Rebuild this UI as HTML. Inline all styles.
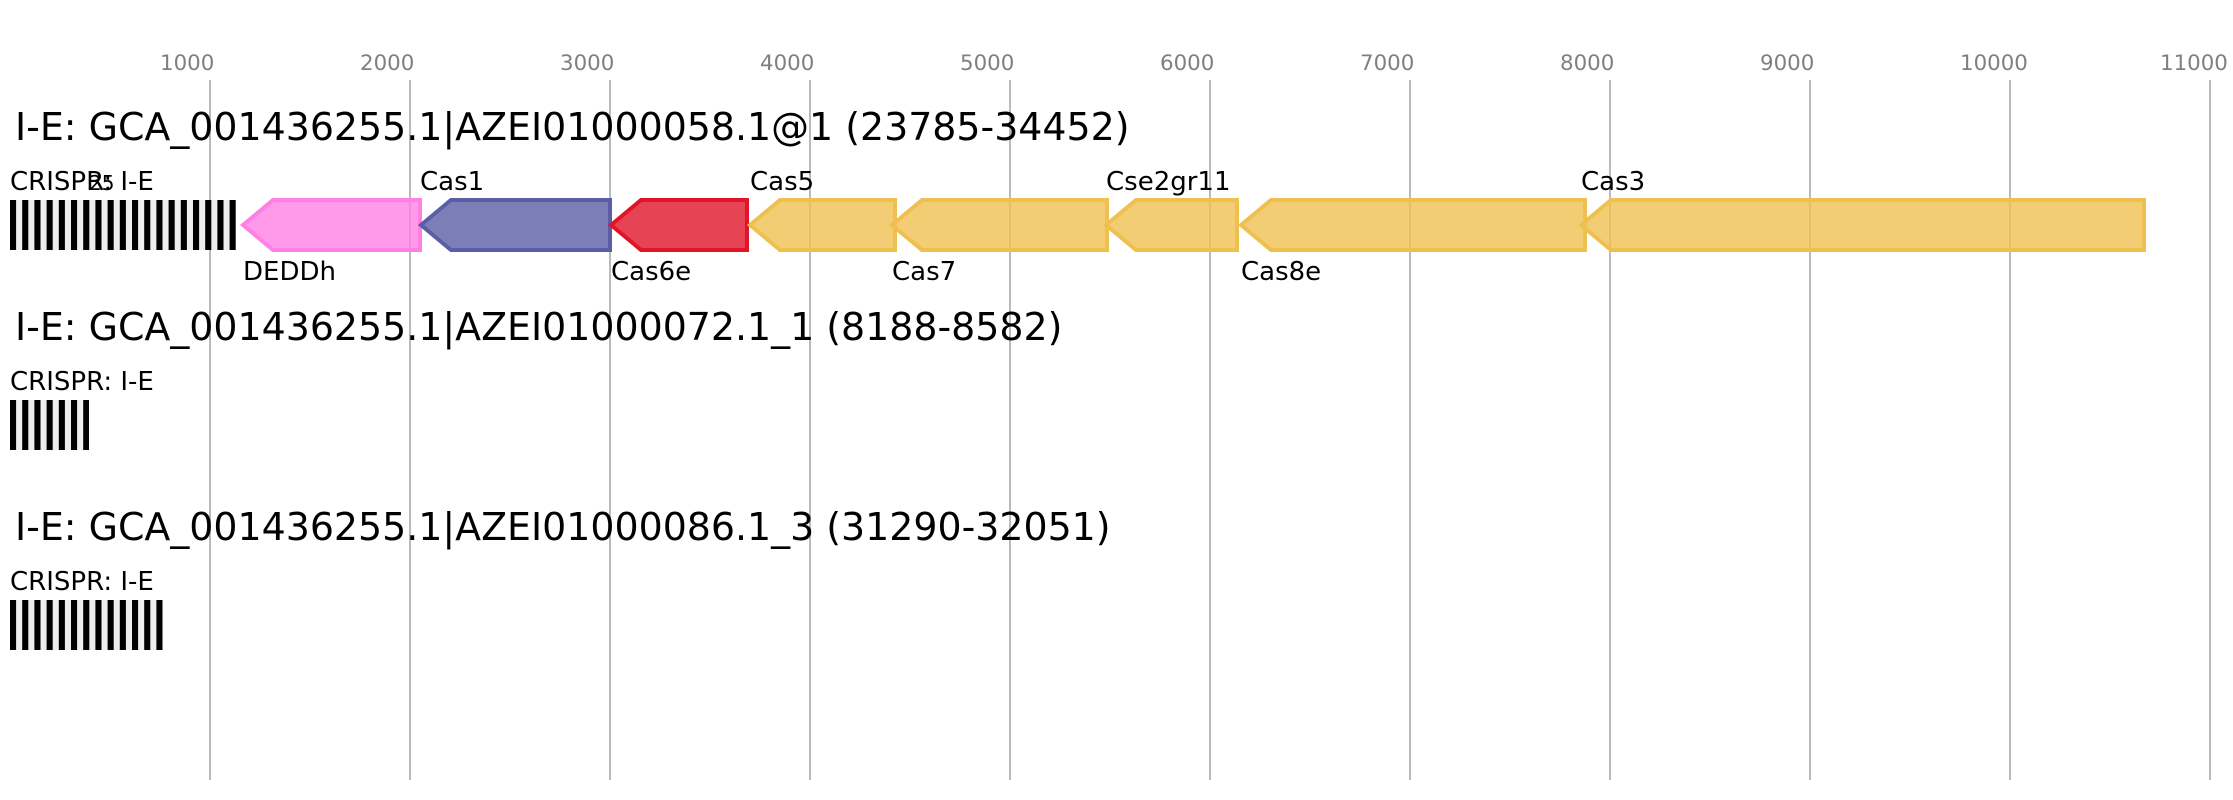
<!DOCTYPE html>
<html>
<head>
<meta charset="utf-8">
<style>
html,body{margin:0;padding:0;background:#fff;}
svg{display:block;}
text{font-family:"DejaVu Sans","Liberation Sans",sans-serif;}
.tick{font-size:21.33px;fill:#808080;}
.title{font-size:37.9px;fill:#000;}
.lab{font-size:26px;fill:#000;}
.grid line{stroke:#bbb;stroke-width:2;}
.g{stroke-width:4;fill-opacity:.8;}
</style>
</head>
<body>
<svg width="2233" height="800" viewBox="0 0 2233 800" xmlns="http://www.w3.org/2000/svg">
<rect width="2233" height="800" fill="#fff"/>
<g class="grid">
<line x1="210" y1="80" x2="210" y2="780"/>
<line x1="410" y1="80" x2="410" y2="780"/>
<line x1="610" y1="80" x2="610" y2="780"/>
<line x1="810" y1="80" x2="810" y2="780"/>
<line x1="1010" y1="80" x2="1010" y2="780"/>
<line x1="1210" y1="80" x2="1210" y2="780"/>
<line x1="1410" y1="80" x2="1410" y2="780"/>
<line x1="1610" y1="80" x2="1610" y2="780"/>
<line x1="1810" y1="80" x2="1810" y2="780"/>
<line x1="2010" y1="80" x2="2010" y2="780"/>
<line x1="2210" y1="80" x2="2210" y2="780"/>
</g>
<text class="tick" x="160" y="70">1000</text>
<text class="tick" x="360" y="70">2000</text>
<text class="tick" x="560" y="70">3000</text>
<text class="tick" x="760" y="70">4000</text>
<text class="tick" x="960" y="70">5000</text>
<text class="tick" x="1160" y="70">6000</text>
<text class="tick" x="1360" y="70">7000</text>
<text class="tick" x="1560" y="70">8000</text>
<text class="tick" x="1760" y="70">9000</text>
<text class="tick" x="1960" y="70">10000</text>
<text class="tick" x="2160" y="70">11000</text>

<text class="title" x="15" y="140">I-E: GCA_001436255.1|AZEI01000058.1@1 (23785-34452)</text>
<text class="lab" x="10" y="190">CRISPR: I-E</text>
<text x="89" y="190" style="font-size:20px" fill="#000">25</text>
<rect x="10" y="200" width="226" height="50" fill="#eee"/>
<line x1="10" y1="225" x2="236" y2="225" stroke="#000" stroke-width="50" stroke-dasharray="6.1 6.1"/>

<path class="g" d="M243 225L273 200H420V250H273Z" fill="#ff80e5" stroke="#ff80e5"/>
<path class="g" d="M421 225L451 200H610V250H451Z" fill="#5b5ea6" stroke="#5b5ea6"/>
<path class="g" d="M611 225L641 200H747V250H641Z" fill="#e0152a" stroke="#e0152a"/>
<path class="g" d="M750 225L780 200H895V250H780Z" fill="#efc050" stroke="#efc050"/>
<path class="g" d="M892 225L922 200H1107V250H922Z" fill="#efc050" stroke="#efc050"/>
<path class="g" d="M1106 225L1136 200H1237V250H1136Z" fill="#efc050" stroke="#efc050"/>
<path class="g" d="M1241 225L1271 200H1585V250H1271Z" fill="#efc050" stroke="#efc050"/>
<path class="g" d="M1581 225L1611 200H2144V250H1611Z" fill="#efc050" stroke="#efc050"/>

<text class="lab" x="243" y="280">DEDDh</text>
<text class="lab" x="420" y="190">Cas1</text>
<text class="lab" x="611" y="280">Cas6e</text>
<text class="lab" x="750" y="190">Cas5</text>
<text class="lab" x="892" y="280">Cas7</text>
<text class="lab" x="1106" y="190">Cse2gr11</text>
<text class="lab" x="1241" y="280">Cas8e</text>
<text class="lab" x="1581" y="190">Cas3</text>

<text class="title" x="15" y="340">I-E: GCA_001436255.1|AZEI01000072.1_1 (8188-8582)</text>
<text class="lab" x="10" y="390">CRISPR: I-E</text>
<rect x="10" y="400" width="79" height="50" fill="#eee"/>
<line x1="10" y1="425" x2="89" y2="425" stroke="#000" stroke-width="50" stroke-dasharray="6.1 6.1"/>

<text class="title" x="15" y="540">I-E: GCA_001436255.1|AZEI01000086.1_3 (31290-32051)</text>
<text class="lab" x="10" y="590">CRISPR: I-E</text>
<rect x="10" y="600" width="152.5" height="50" fill="#eee"/>
<line x1="10" y1="625" x2="162.5" y2="625" stroke="#000" stroke-width="50" stroke-dasharray="6.1 6.1"/>
</svg>
</body>
</html>
